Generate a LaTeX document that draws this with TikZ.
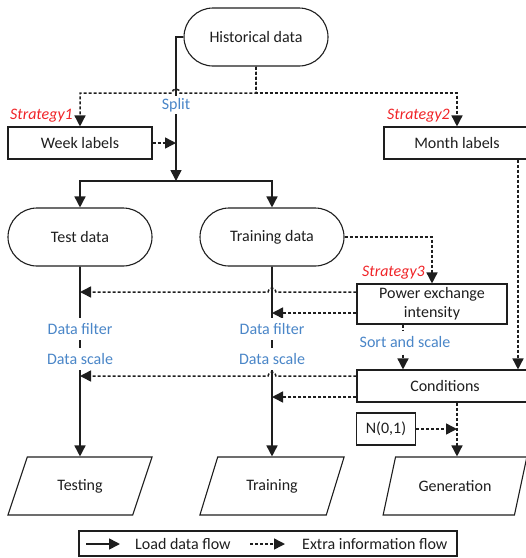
\documentclass[tikz,border=0pt]{standalone}
\usepackage{fontspec}
\setmainfont{Carlito}
\usepackage{tikz}
\usetikzlibrary{arrows.meta,shapes.geometric,calc}
\definecolor{Ink}{RGB}{30,30,30}
\definecolor{LabelBlue}{RGB}{74,134,200}
\definecolor{StratRed}{RGB}{240,36,40}

\begin{document}
\begin{tikzpicture}[x = 1pt, y = 1pt, font = \fontsize{16}{19}\selectfont, text = Ink,
    term/.style = {draw = Ink, line width = 1.1pt, rounded corners = 29pt, minimum width = 144pt, minimum height = 58pt},
    proc/.style = {draw = Ink, line width = 1.1pt, minimum height = 32pt, inner sep = 2pt},
    io/.style = {draw = Ink, line width = 1.1pt, trapezium, trapezium left angle = 65, trapezium right angle = 115,
                 trapezium stretches = true, minimum width = 145pt, minimum height = 58pt},
    load/.style = {draw = Ink, line width = 1.6pt, -{Triangle[length = 11pt, width = 11pt]}},
    extra/.style = {draw = Ink, line width = 1.5pt, dash pattern = on 3pt off 2pt, -{Triangle[length = 11pt, width = 11pt]}},
    strat/.style = {text = StratRed, font = \fontsize{16}{19}\selectfont\itshape, inner sep = 0pt, anchor = east},
    note/.style = {text = LabelBlue, fill = white, inner xsep = 1pt, inner ysep = 0pt, minimum height = 22pt}]
              \clip (0, 0) rectangle (526, -558);
              \node [term] (hist) at (256, -37) {Historical data};
              \node [proc, minimum width = 144pt] (week) at (80, -143) {Week labels};
              \node [proc, minimum width = 146pt] (month) at (457, -143) {Month labels};
              \node [term] (test) at (80, -237) {Test data};
              \node [term] (train) at (272, -237) {Training data};
              \node [proc, align = center, minimum width = 150pt, minimum height = 40pt] (power) at (432, -304) {Power exchange\\intensity};
              \node [proc, minimum width = 176pt] (cond) at (445, -386) {Conditions};
              \node [proc, minimum width = 59pt] (noise) at (386, -429) {N(0,1)};
              \node [io] (testing) at (80, -486) {Testing};
              \node [io] (training) at (272, -486) {Training};
              \node [io] (gen) at (455, -486) {Generation};
              \coordinate (fork) at (256, -93);
              \coordinate (split) at (176, -181);
              % extra information
              \draw [extra] (hist.south) -- (fork) -| (month.north);
              \draw [extra] (hist.south) -- (fork) -- ($(fork -| split) + (4, 0)$) arc [start angle = 0, end angle = 180, radius = 4pt] -| (week.north);
              \draw [extra] (week.east) -- (week.east -| split);
              \draw [extra] (train.east) -| (power.north);
              \coordinate (p1) at ([yshift = 12pt]power.west);
              \coordinate (p2) at ([yshift = -9pt]power.west);
              \coordinate (c1) at ([yshift = 10pt]cond.west);
              \coordinate (c2) at ([yshift = -11pt]cond.west);
              \foreach \s in {p1, c1}
              \draw [extra] (\s) -- ($(\s -| train.south) + (4, 0)$) arc [start angle = 0, end angle = 180, radius = 4pt] -- (\s -| test.south);
              \foreach \s in {p2, c2}
              \draw [extra] (\s) -- (\s -| train.south);
              \coordinate (s1) at ([xshift = -29pt]power.south);
              \coordinate (m1) at ([xshift = 61pt]month.south);
              \coordinate (g1) at ([xshift = 12pt]cond.south);
              \draw [extra] (s1) -- (s1 |- cond.north);
              \draw [extra] (m1) -- (m1 |- cond.north);
              \draw [extra] (g1) -- (g1 |- gen.north);
              \draw [extra] (noise.east) -- (noise.east -| g1);
              % load data
              \draw [load] (hist.west) -| (split);
              \draw [load] (split) -| (test.north);
              \draw [load] (split) -| (train.north);
              \draw [load] (test.south) -- (testing.north);
              \draw [load] (train.south) -- (training.north);
              \node [note, minimum height = 0pt, inner ysep = 2pt] (splitlabel) at (176, -105) {Split};
              \foreach \x in {80, 272}
              {\node [note] (filter\x) at (\x, -329) {Data filter};
              \node [note] (scale\x) at (\x, -359) {Data scale};}
              \node [note] (sortlabel) at (405, -342) {Sort and scale};
              \node [strat] (strat1) at ([xshift = -7pt, yshift = 11pt]week.north) {Strategy1};
              \node [strat] (strat2) at ([xshift = -7pt, yshift = 11pt]month.north) {Strategy2};
              \node [strat] (strat3) at ([xshift = -7pt, yshift = 11pt]power.north) {Strategy3};
              % legend
              \node [draw = Ink, line width = 1.1pt, minimum width = 378pt, minimum height = 25pt] (legend) at (268, -543.5) {};
              \coordinate (l1) at (86, -544);
              \coordinate (l2) at (120, -544);
              \coordinate (l3) at (250, -544);
              \coordinate (l4) at (285, -544);
              \draw [load] (l1) -- (l2);
              \draw [extra] (l3) -- (l4);
              \node [anchor = west, inner sep = 0pt] (loadtext) at (135, -544) {Load data flow};
              \node [anchor = west, inner sep = 0pt] (extratext) at (302, -544) {Extra information flow};
            \end{tikzpicture}
\end{document}
